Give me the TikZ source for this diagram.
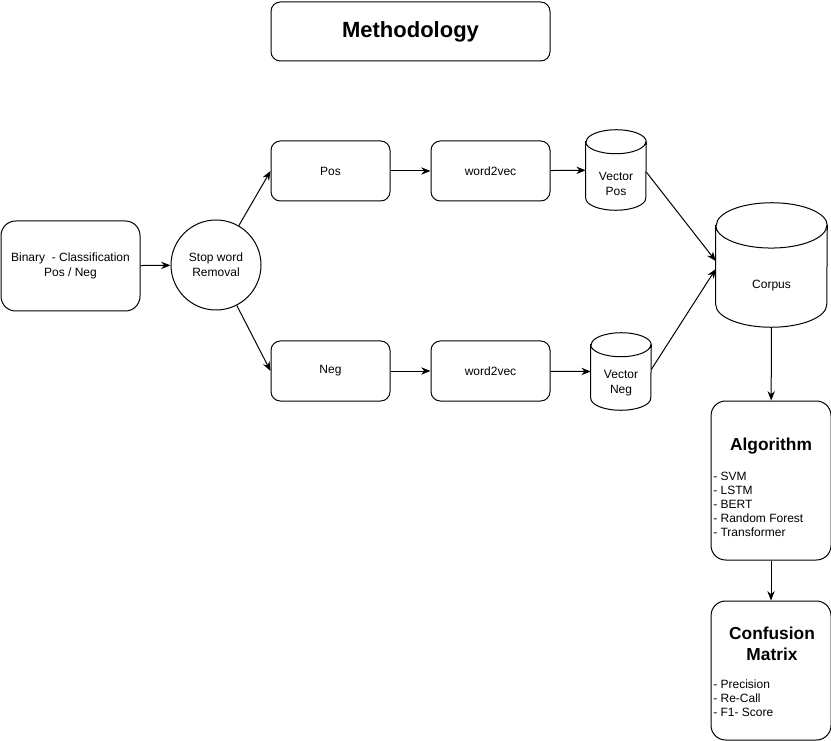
\documentclass[tikz,border=0pt]{standalone}
\usepackage{fontspec}
\setmainfont{Liberation Sans}
\usetikzlibrary{arrows.meta,positioning}
\definecolor{mthLine}{HTML}{000000}
\tikzset{
  >={Stealth[length=7pt,width=5.5pt]},
  px/.style={x=0.75pt,y=-0.75pt},
  box/.style={rounded corners=7pt, draw=mthLine, line width=0.75pt,
              align=center, inner sep=2pt, font=\fontsize{9}{11}\selectfont},
  bigbox/.style={box, rounded corners=11pt},
  stopc/.style={circle, draw=mthLine, line width=0.75pt, align=center,
              minimum size=67.5pt, inner sep=0pt, font=\fontsize{9}{11}\selectfont},
  store/.style={rectangle, inner sep=0pt},
  outline/.style={draw=mthLine, line width=0.75pt},
  txt/.style={align=center, inner sep=0pt, font=\fontsize{9}{11}\selectfont},
  ttl/.style={font=\fontsize{13}{16}\selectfont\bfseries, align=center, inner sep=0pt},
  lst/.style={font=\fontsize{9}{10.5}\selectfont, align=left, inner sep=0pt, anchor=north west},
  flow/.style={->, draw=mthLine, line width=0.75pt},
}
% drum outline round a node: name, half width, cap radius
\newcommand{\drum}[3]{%
  \draw[outline] ([yshift=-#3]#1.north west) -- ([yshift=#3]#1.south west)
    arc[start angle=180, end angle=360, x radius=#2, y radius=#3]
    -- ([yshift=-#3]#1.north east)
    arc[start angle=0, end angle=180, x radius=#2, y radius=#3] -- cycle
    ([yshift=-#3]#1.north west)
    arc[start angle=180, end angle=360, x radius=#2, y radius=#3];}

\begin{document}
\begin{tikzpicture}[px]
  \useasboundingbox (0,0) rectangle (831,741);
  % title
  \node[box, minimum width=209.25pt, minimum height=44.25pt,
        font=\fontsize{16.5}{19}\selectfont\bfseries] (title) at (410.5,31.5) {Methodology};

  % input and preprocessing
  \node[bigbox, minimum width=104.25pt, minimum height=67.5pt] (binary) at (70.5,266)
       {Binary\ \ - Classification\\Pos / Neg};
  \node[stopc] (stop) at (216,265) {Stop word\\Removal};

  % two branches
  \node[box, minimum width=89.25pt, minimum height=45pt] (pos) at (330.5,171) {Pos};
  \node[box, minimum width=89.25pt, minimum height=45pt] (neg) at (330.5,371) {Neg};
  \node[box, minimum width=89.25pt, minimum height=45pt] (wvpos) at (490.5,171) {word2vec};
  \node[box, minimum width=89.25pt, minimum height=45pt] (wvneg) at (490.5,371) {word2vec};
  \node[store, minimum width=45pt, minimum height=60pt] (vpos) at (616,170) {};
  \drum{vpos}{22.5pt}{9pt}
  \node[txt] (vpostxt) at (616,184) {Vector\\Pos};
  \node[store, minimum width=45pt, minimum height=57.75pt] (vneg) at (621,371.5) {};
  \drum{vneg}{22.5pt}{9pt}
  \node[txt] (vnegtxt) at (621,383) {Vector\\Neg};

  % corpus and evaluation
  \node[store, minimum width=83.25pt, minimum height=93pt] (corpus) at (771.5,265) {};
  \drum{corpus}{41.625pt}{17pt}
  \node[txt] (corpustxt) at (771.5,286) {Corpus};
  \node[bigbox, minimum width=90pt, minimum height=119.25pt] (algo) at (771,480.5) {};
  \node[ttl] (algottl) at (771,446) {Algorithm};
  \node[lst] (algolst) at (713,472)
       {- SVM\\- LSTM\\- BERT\\- Random Forest\\- Transformer};
  \node[bigbox, minimum width=90pt, minimum height=104.25pt] (conf) at (771,670.5) {};
  \node[ttl] (confttl) at (772,644) {Confusion\\Matrix};
  \node[lst] (conflst) at (713,680)
       {- Precision\\- Re-Call\\- F1- Score};

  % connectors
  \draw[flow] (binary) -- (stop);
  \draw[flow] (stop) -- (pos.west);
  \draw[flow] (stop) -- (neg.west);
  \draw[flow] (pos) -- (wvpos);
  \draw[flow] (neg) -- (wvneg);
  \draw[flow] (wvpos) -- (vpos);
  \draw[flow] (wvneg) -- (vneg.west);
  \draw[flow] ([yshift=-1.5pt]vpos.east) -- ([yshift=3pt]corpus.west);
  \draw[flow] ([yshift=1.5pt]vneg.east) -- ([yshift=-3pt]corpus.west);
  \draw[flow] (corpus) -- (algo);
  \draw[flow] (algo) -- (conf);
\end{tikzpicture}
\end{document}
